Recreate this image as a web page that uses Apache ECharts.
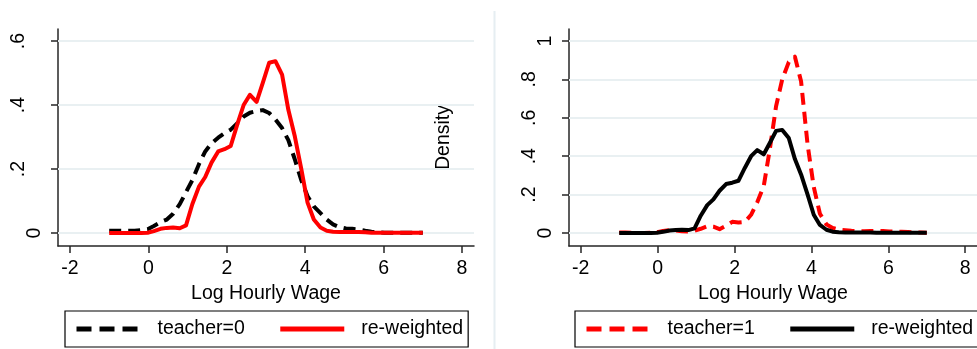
<!DOCTYPE html>
<html>
<head>
<meta charset="utf-8">
<script src="https://cdn.jsdelivr.net/npm/echarts@6/dist/echarts.min.js"></script>
<style>
html,body{margin:0;padding:0;background:#fff;}
#c{width:977px;height:349px;}
</style>
</head>
<body>
<div id="c"></div>
<script>
// Evaluation points (Log Hourly Wage)
var xGrid = [-1.00,-0.84,-0.67,-0.51,-0.35,-0.18,-0.02,0.14,0.31,0.47,0.63,0.80,0.96,1.12,1.29,1.45,1.61,1.78,1.94,2.10,2.27,2.43,2.59,2.76,2.92,3.08,3.24,3.41,3.57,3.73,3.90,4.06,4.22,4.39,4.55,4.71,4.88,5.04,5.20,5.37,5.53,5.69,5.86,6.02,6.18,6.35,6.51,6.67,6.84,7.00];
// Densities
var teacher0 = [0.007,0.007,0.007,0.007,0.007,0.009,0.012,0.022,0.034,0.042,0.060,0.090,0.128,0.165,0.215,0.255,0.280,0.298,0.312,0.323,0.343,0.364,0.376,0.381,0.384,0.375,0.355,0.328,0.290,0.232,0.165,0.115,0.083,0.062,0.042,0.027,0.018,0.014,0.013,0.011,0.007,0.004,0.002,0.001,0.001,0.001,0.001,0.001,0.001,0.001];
var teacher1 = [0.003,0.003,0.001,0.000,0.000,0.001,0.004,0.010,0.015,0.013,0.009,0.008,0.012,0.022,0.035,0.033,0.020,0.038,0.058,0.055,0.058,0.095,0.160,0.245,0.440,0.660,0.800,0.890,0.918,0.790,0.460,0.240,0.100,0.045,0.026,0.018,0.015,0.012,0.010,0.009,0.010,0.011,0.010,0.008,0.007,0.006,0.005,0.003,0.002,0.001];
var reweighted = [0,0,0,0,0,0,0.001,0.006,0.013,0.016,0.017,0.015,0.024,0.090,0.145,0.175,0.220,0.255,0.262,0.272,0.340,0.400,0.432,0.410,0.470,0.532,0.537,0.495,0.385,0.305,0.200,0.095,0.042,0.017,0.007,0.004,0.003,0.003,0.003,0.003,0.002,0.001,0.001,0.001,0.001,0.001,0.001,0.001,0.001,0.001];
// Tick labels
var xTicks = [-2,0,2,4,6,8];
var yTicksLeft = [0,0.2,0.4,0.6];
var yTicksRight = [0,0.2,0.4,0.6,0.8,1];
var xTitle = 'Log Hourly Wage';
var yTitle = 'Density';
var legendLeft = ['teacher=0','re-weighted'];
var legendRight = ['teacher=1','re-weighted'];

function pairs(ys){ return xGrid.map(function(x,i){ return [x, ys[i]]; }); }

var FONT = 'Liberation Sans, Arial, sans-serif';
var FS = 19.5;
var AX = '#262626';
var GRIDC = '#e9f0f2';
var RED = '#ff0000';
var DASH = [12,7];

function yFmt(v){
  if (v === 0) return '{i|0}';
  if (v === 1) return '{i|1}';
  return '{d|' + String(+v.toFixed(1)).replace(/^0/, '') + '}';
}

function xAxisOpt(idx){
  return {
    type:'value', gridIndex: idx, min:-2.306, max:8.306,
    name: xTitle, nameLocation:'middle', nameGap: 32,
    nameTextStyle:{fontFamily:FONT, fontSize:FS, color:'#000'},
    axisLine:{show:true, onZero:false, lineStyle:{color:AX, width:1.5}},
    axisTick:{show:true, length:7, lineStyle:{color:AX, width:1.5}, customValues: xTicks},
    axisLabel:{show:true, margin:13, fontFamily:FONT, fontSize:FS, color:'#000', customValues: xTicks,
      formatter:function(v){ return String(v); }},
    splitLine:{show:false}
  };
}
function yAxisOpt(idx, min, max, ticks, name){
  var o = {
    type:'value', gridIndex: idx, min:min, max:max,
    axisLine:{show:true, onZero:false, lineStyle:{color:AX, width:1.5}},
    axisTick:{show:true, length:7, lineStyle:{color:AX, width:1.5}, customValues: ticks},
    axisLabel:{show:true, rotate:90, margin:13, fontFamily:FONT, fontSize:FS, color:'#000', customValues: ticks,
      formatter: yFmt,
      rich:{ i:{fontFamily:FONT, fontSize:FS, color:'#000'},
             d:{fontFamily:FONT, fontSize:FS, color:'#000', padding:[0,0,16,0]} }},
    splitLine:{show:false}
  };
  if (name){
    o.name = name; o.nameLocation = 'middle'; o.nameGap = 115; o.nameRotate = 90;
    o.nameTextStyle = {fontFamily:FONT, fontSize:FS, color:'#000'};
  }
  return o;
}
function gridLines(ticks){
  return {
    silent:true, symbol:'none', z:1, animation:false,
    label:{show:false},
    lineStyle:{color:GRIDC, width:2, type:'solid'},
    emphasis:{disabled:true},
    data: ticks.map(function(v){ return {yAxis:v}; })
  };
}
function lineSeries(name, ys, xi, color, dashed, ticks){
  var s = {
    type:'line', name:name, xAxisIndex:xi, yAxisIndex:xi,
    data: pairs(ys), showSymbol:false, symbol:'none', smooth:false,
    lineStyle:{color:color, width:4, type: dashed ? DASH : 'solid', cap:'butt', join:'round'},
    itemStyle:{color:color},
    emphasis:{disabled:true}, animation:false, z:2
  };
  if (ticks) s.markLine = gridLines(ticks);
  return s;
}
function legendOpt(left, names, styles){
  return {
    show:true, left: left, top: 311, width: 600, orient:'horizontal',
    padding:[8,5,8,9], itemGap:33, itemWidth:64, itemHeight:20,
    borderColor:'#000', borderWidth:1.2,
    selectedMode:false,
    itemStyle:{opacity:0},
    textStyle:{fontFamily:FONT, fontSize:FS, color:'#000', padding:[0,0,0,12]},
    data: names.map(function(n,i){
      return {name:n, itemStyle:{color:styles[i].color, opacity:0, borderWidth:0},
        lineStyle:{color:styles[i].color, width:5, opacity:1, type:styles[i].dashed?[15,8]:'solid', cap:'butt'}};
    })
  };
}

var chart = echarts.init(document.getElementById('c'), null, {renderer:'canvas'});
chart.setOption({
  animation:false,
  backgroundColor:'#fff',
  grid:[
    {left:58, top:29, width:416, height:217, containLabel:false},
    {left:569, top:29, width:416, height:217, containLabel:false}
  ],
  xAxis:[xAxisOpt(0), xAxisOpt(1)],
  yAxis:[
    yAxisOpt(0, -0.0406, 0.6375, yTicksLeft, null),
    yAxisOpt(1, -0.0677, 1.0625, yTicksRight, yTitle)
  ],
  legend:[
    legendOpt(65, legendLeft, [{color:'#000', dashed:true},{color:RED, dashed:false}]),
    legendOpt(575, legendRight, [{color:RED, dashed:true},{color:'#000', dashed:false}])
  ],
  graphic:[
    {type:'line', shape:{x1:494.5, y1:11, x2:494.5, y2:349}, style:{stroke:'#e6eef2', lineWidth:2}, silent:true, z:0}
  ],
  series:[
    lineSeries(legendLeft[0], teacher0, 0, '#000', true, yTicksLeft),
    lineSeries(legendLeft[1], reweighted, 0, RED, false, null),
    lineSeries(legendRight[0], teacher1, 1, RED, true, yTicksRight),
    lineSeries(legendRight[1], reweighted, 1, '#000', false, null)
  ]
});
</script>
</body>
</html>
